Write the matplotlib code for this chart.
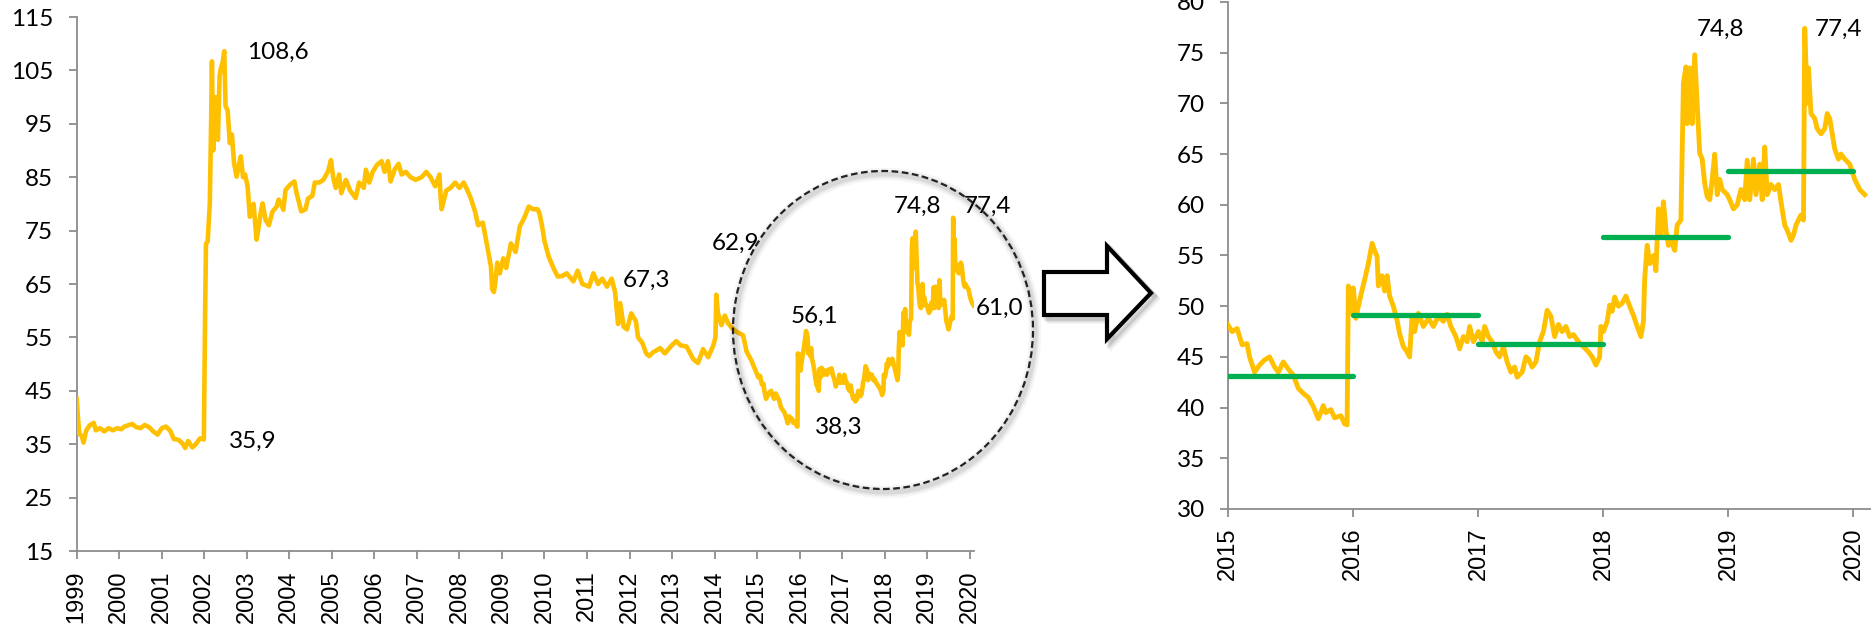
import matplotlib
matplotlib.use("Agg")
import matplotlib.pyplot as plt
from matplotlib.patches import Ellipse, Polygon
from matplotlib import font_manager

# ---------------- data ----------------
dates = [
    1999.00, 1999.03, 1999.06, 1999.12, 1999.16, 1999.22, 1999.30, 1999.40, 1999.45, 1999.55,
    1999.65, 1999.75, 1999.85, 1999.95, 2000.05, 2000.12, 2000.20, 2000.30, 2000.40, 2000.50,
    2000.60, 2000.70, 2000.80, 2000.90, 2001.00, 2001.10, 2001.20, 2001.28, 2001.40, 2001.50,
    2001.55, 2001.62, 2001.72, 2001.80, 2001.90, 2001.99, 2002.02, 2002.04, 2002.08, 2002.13,
    2002.16, 2002.18, 2002.21, 2002.25, 2002.28, 2002.32, 2002.36, 2002.39, 2002.43, 2002.47,
    2002.50, 2002.55, 2002.60, 2002.65, 2002.70, 2002.76, 2002.82, 2002.86, 2002.91, 2002.96,
    2003.02, 2003.07, 2003.12, 2003.16, 2003.20, 2003.23, 2003.28, 2003.33, 2003.37, 2003.44,
    2003.52, 2003.60, 2003.70, 2003.75, 2003.80, 2003.86, 2003.91, 2004.02, 2004.12, 2004.17,
    2004.22, 2004.28, 2004.38, 2004.44, 2004.54, 2004.60, 2004.70, 2004.80, 2004.91, 2004.98,
    2005.03, 2005.09, 2005.17, 2005.22, 2005.33, 2005.43, 2005.56, 2005.64, 2005.75, 2005.80,
    2005.88, 2005.96, 2006.06, 2006.17, 2006.24, 2006.32, 2006.38, 2006.48, 2006.57, 2006.64,
    2006.74, 2006.85, 2006.97, 2007.11, 2007.22, 2007.32, 2007.43, 2007.53, 2007.56, 2007.58,
    2007.69, 2007.79, 2007.90, 2008.00, 2008.10, 2008.19, 2008.27, 2008.37, 2008.44, 2008.55,
    2008.63, 2008.74, 2008.77, 2008.81, 2008.84, 2008.89, 2008.95, 2009.03, 2009.10, 2009.21,
    2009.32, 2009.42, 2009.52, 2009.63, 2009.73, 2009.84, 2009.89, 2009.95, 2010.00, 2010.10,
    2010.21, 2010.31, 2010.42, 2010.52, 2010.68, 2010.78, 2010.89, 2011.05, 2011.15, 2011.26,
    2011.36, 2011.47, 2011.58, 2011.66, 2011.73, 2011.78, 2011.86, 2011.94, 2012.04, 2012.15,
    2012.20, 2012.30, 2012.39, 2012.46, 2012.55, 2012.62, 2012.72, 2012.83, 2012.99, 2013.10,
    2013.20, 2013.34, 2013.50, 2013.61, 2013.73, 2013.85, 2013.97, 2014.02, 2014.04, 2014.08,
    2014.16, 2014.24, 2014.32, 2014.44, 2014.55, 2014.67, 2014.75, 2014.87, 2014.95,
    2015.00, 2015.03, 2015.07, 2015.11, 2015.15, 2015.17, 2015.21, 2015.25, 2015.29, 2015.33,
    2015.37, 2015.40, 2015.44, 2015.48, 2015.52, 2015.56, 2015.60, 2015.64, 2015.68, 2015.72,
    2015.76, 2015.78, 2015.82, 2015.85, 2015.90, 2015.93, 2015.95, 2015.96, 2015.98, 2016.00,
    2016.02, 2016.04, 2016.07, 2016.09, 2016.12, 2016.15, 2016.17, 2016.19, 2016.20, 2016.23,
    2016.25, 2016.27, 2016.29, 2016.32, 2016.35, 2016.37, 2016.40, 2016.42, 2016.45, 2016.47,
    2016.49, 2016.52, 2016.56, 2016.60, 2016.64, 2016.68, 2016.72, 2016.75, 2016.78, 2016.82,
    2016.85, 2016.88, 2016.91, 2016.93, 2016.96, 2017.00, 2017.03, 2017.05, 2017.08, 2017.11,
    2017.14, 2017.17, 2017.20, 2017.23, 2017.26, 2017.29, 2017.31, 2017.35, 2017.38, 2017.40,
    2017.43, 2017.46, 2017.49, 2017.52, 2017.55, 2017.58, 2017.61, 2017.64, 2017.67, 2017.70,
    2017.73, 2017.76, 2017.80, 2017.84, 2017.88, 2017.91, 2017.94, 2017.97, 2017.98, 2018.00,
    2018.03, 2018.05, 2018.07, 2018.09, 2018.12, 2018.15, 2018.18, 2018.21, 2018.24, 2018.27,
    2018.30, 2018.32, 2018.33, 2018.35, 2018.37, 2018.40, 2018.42, 2018.44, 2018.46, 2018.48,
    2018.50, 2018.52, 2018.54, 2018.57, 2018.59, 2018.62, 2018.64, 2018.66, 2018.67, 2018.69,
    2018.71, 2018.73, 2018.75, 2018.77, 2018.79, 2018.81, 2018.83, 2018.85, 2018.87, 2018.89,
    2018.91, 2018.93, 2018.95, 2018.99, 2019.01, 2019.04, 2019.07, 2019.10, 2019.13, 2019.15,
    2019.17, 2019.20, 2019.22, 2019.25, 2019.27, 2019.29, 2019.31, 2019.34, 2019.37, 2019.40,
    2019.43, 2019.45, 2019.47, 2019.50, 2019.52, 2019.54, 2019.56, 2019.58, 2019.60, 2019.61,
    2019.63, 2019.64, 2019.66, 2019.69, 2019.71, 2019.74, 2019.77, 2019.79, 2019.81, 2019.83,
    2019.85, 2019.88, 2019.90, 2019.93, 2019.97, 2020.01, 2020.05, 2020.09,
]
prices = [
    43.5, 40.0, 37.0, 36.5, 35.3, 37.5, 38.5, 39.0, 37.6, 38.0,
    37.4, 38.0, 37.6, 38.0, 37.8, 38.3, 38.5, 38.8, 38.2, 38.0,
    38.6, 38.2, 37.4, 36.8, 38.0, 38.3, 37.5, 36.0, 35.8, 35.0,
    34.3, 35.6, 34.4, 35.0, 36.1, 35.9, 60.0, 72.5, 73.0, 80.0,
    95.0, 106.7, 90.0, 98.0, 100.0, 92.0, 104.0, 105.4, 106.4, 108.6,
    98.3, 97.5, 91.4, 93.0, 87.6, 85.1, 87.5, 88.9, 85.0, 85.5,
    83.2, 77.6, 78.5, 80.0, 76.0, 73.3, 75.8, 78.5, 80.1, 77.0,
    76.0, 78.5, 79.5, 80.8, 80.0, 78.9, 82.6, 83.6, 84.2, 82.0,
    80.5, 78.6, 79.0, 81.0, 81.5, 84.0, 84.0, 84.5, 86.1, 88.2,
    85.0, 83.0, 85.5, 82.0, 84.5, 82.5, 81.1, 84.0, 83.0, 86.4,
    84.0, 86.0, 87.3, 88.0, 86.0, 88.0, 84.2, 86.5, 87.5, 85.5,
    86.0, 85.0, 84.5, 85.0, 86.0, 85.0, 83.3, 85.5, 81.0, 79.0,
    82.5, 83.0, 84.0, 83.0, 84.0, 82.5, 81.0, 78.5, 76.0, 76.5,
    73.0, 68.3, 64.0, 63.5, 65.0, 69.0, 67.0, 69.8, 68.0, 72.6,
    71.0, 75.8, 77.3, 79.5, 79.0, 79.0, 78.0, 75.5, 73.0, 70.1,
    68.0, 66.4, 66.5, 67.0, 65.5, 67.5, 65.0, 64.5, 67.0, 65.0,
    66.0, 64.5, 66.0, 63.5, 57.5, 61.4, 57.0, 56.5, 59.5, 58.0,
    55.0, 54.0, 52.0, 51.5, 52.2, 52.5, 53.0, 52.0, 53.5, 54.3,
    53.5, 53.3, 50.9, 50.2, 52.8, 51.3, 53.5, 55.0, 63.0, 59.5,
    57.3, 59.1, 57.6, 56.5, 55.9, 55.4, 52.4, 50.6, 49.0,
    48.1, 47.5, 47.8, 46.2, 46.3, 45.0, 43.5, 44.2, 44.7, 45.0,
    44.0, 43.5, 44.5, 43.8, 43.2, 41.9, 41.4, 41.0, 40.1, 38.9,
    40.2, 39.5, 39.8, 39.0, 39.2, 38.4, 38.3, 52.0, 49.4, 51.8,
    48.8, 50.0, 51.6, 52.6, 54.2, 56.2, 55.5, 54.9, 52.0, 53.0,
    51.5, 53.0, 51.0, 50.0, 48.6, 47.3, 46.0, 45.7, 45.0, 49.1,
    47.5, 49.3, 48.0, 48.8, 48.0, 49.0, 48.5, 49.2, 48.0, 47.0,
    45.8, 47.0, 46.5, 48.0, 46.5, 47.5, 46.5, 48.0, 47.0, 46.5,
    45.5, 45.0, 46.0, 44.5, 43.5, 44.0, 43.0, 43.5, 45.0, 44.8,
    44.0, 44.5, 46.5, 47.5, 49.6, 49.0, 47.0, 48.2, 47.5, 48.0,
    47.0, 47.2, 46.5, 46.0, 45.5, 45.0, 44.2, 45.0, 48.0, 47.5,
    48.5, 50.1, 49.5, 50.9, 50.0, 50.3, 51.0, 50.0, 49.1, 48.0,
    47.0, 48.5, 52.7, 56.0, 54.2, 55.0, 53.5, 59.6, 57.0, 60.3,
    57.5, 56.0, 56.5, 55.5, 58.0, 58.5, 72.0, 73.6, 68.0, 73.5,
    68.0, 74.8, 70.0, 65.1, 64.5, 62.1, 60.8, 60.5, 62.5, 65.0,
    61.0, 62.5, 61.5, 61.0, 60.5, 59.6, 60.0, 61.5, 60.5, 64.4,
    60.5, 64.5, 61.0, 64.0, 60.5, 65.7, 61.0, 62.0, 61.5, 62.0,
    59.5, 58.0, 57.5, 56.5, 57.0, 58.0, 58.5, 59.0, 58.5, 77.4,
    70.0, 73.5, 69.0, 68.5, 67.5, 67.0, 67.5, 69.0, 68.5, 67.0,
    65.5, 64.5, 65.0, 64.5, 64.0, 62.5, 61.5, 61.0,
]
avg_years = [2015, 2016, 2017, 2018, 2019]
avg_values = [43.1, 49.1, 46.3, 56.8, 63.3]
left_labels = ["108,6", "35,9", "67,3", "62,9", "56,1", "38,3", "74,8", "77,4", "61,0"]
right_labels = ["74,8", "77,4"]
left_xticks = list(range(1999, 2021))
right_xticks = list(range(2015, 2021))
left_yticks = list(range(15, 116, 10))
right_yticks = list(range(30, 81, 5))

# ---------------- layout ----------------
left_label_pos = [(2003.0, 108.3), (2002.58, 35.6), (2011.84, 65.6), (2013.93, 72.7),
                  (2015.79, 59.0), (2016.36, 38.2), (2018.21, 79.6), (2019.86, 79.6),
                  (2020.14, 60.5)]
right_label_pos = [(2018.75, 77.3), (2019.69, 77.3)]

W, H = 1871, 626
GOLD = "#FFC000"
GREEN = "#00B050"
SPINE = "#8C8C8C"

avail = {f.name for f in font_manager.fontManager.ttflist}
if "Liberation Sans Narrow" in avail:
    XFONT, XSIZE = "Liberation Sans Narrow", 20.5
else:
    XFONT, XSIZE = "Liberation Sans", 17
NUMF = "Lato" if "Lato" in avail else "DejaVu Sans"

fig = plt.figure(figsize=(W / 100, H / 100), dpi=100)
fig.patch.set_facecolor("white")


def px_rect(x0, y0, x1, y1):
    return [x0 / W, 1 - y1 / H, (x1 - x0) / W, (y1 - y0) / H]


ax1 = fig.add_axes(px_rect(76.7, 17, 974, 551))
ax2 = fig.add_axes(px_rect(1228.3, 2, 1871, 509))


def style(ax, xticks, yticks, xpad, ypad):
    for s in ["top", "right"]:
        ax.spines[s].set_visible(False)
    for s in ["left", "bottom"]:
        ax.spines[s].set_color(SPINE)
        ax.spines[s].set_linewidth(1.3)
    ax.set_xticks(xticks)
    ax.set_yticks(yticks)
    ax.set_xticklabels([str(t) for t in xticks], rotation=90, fontfamily=XFONT,
                       fontsize=XSIZE)
    ax.set_yticklabels([str(t) for t in yticks], fontfamily=NUMF, fontsize=17.5)
    ax.tick_params(axis="both", direction="out", length=6, width=1.3, color=SPINE,
                   labelcolor="black")
    ax.tick_params(axis="x", pad=xpad)
    ax.tick_params(axis="y", pad=ypad)
    ax.set_facecolor("none")


ax1.plot(dates, prices, color=GOLD, lw=3.3, solid_joinstyle="round", zorder=3)
ax1.set_xlim(1999, 2020.1)
ax1.set_ylim(15, 115)
style(ax1, left_xticks, left_yticks, 8, 11)
for txt, (x, y) in zip(left_labels, left_label_pos):
    ax1.text(x, y, txt, ha="left", va="center", fontsize=17.5, fontfamily=NUMF,
             color="black", zorder=5)

ax2.plot(dates, prices, color=GOLD, lw=3.5, solid_joinstyle="round", zorder=3)
for yr, v in zip(avg_years, avg_values):
    ax2.plot([yr, yr + 1], [v, v], color=GREEN, lw=3.8, solid_capstyle="round", zorder=4)
ax2.set_xlim(2015, 2020.14)
ax2.set_ylim(30, 80)
style(ax2, right_xticks, right_yticks, 7, 11)
for txt, (x, y) in zip(right_labels, right_label_pos):
    ax2.text(x, y, txt, ha="left", va="center", fontsize=17.5, fontfamily=NUMF,
             color="black", zorder=5)

# ---------------- dashed circle with soft shadow ----------------
cx, cy, ew, eh = 883, 330, 300, 318
for lw, a in [(9, 0.035), (6, 0.05), (3.5, 0.07)]:
    fig.add_artist(Ellipse(((cx + 2) / W, 1 - (cy + 3) / H), ew / W, eh / H,
                           transform=fig.transFigure, fill=False, ec="black",
                           lw=lw, alpha=a, zorder=9))
fig.add_artist(Ellipse((cx / W, 1 - cy / H), ew / W, eh / H, transform=fig.transFigure,
                       fill=False, ec="#222222", lw=1.6, linestyle=(0, (3, 1.6)),
                       zorder=10))

# ---------------- block arrow ----------------
arrow_px = [(1044, 272), (1107, 272), (1107, 246), (1151, 293), (1107, 339),
            (1107, 315), (1044, 315)]


def to_fig(pts, dx=0, dy=0):
    return [((x + dx) / W, 1 - (y + dy) / H) for x, y in pts]


for d, a in [(6, 0.05), (4.5, 0.08), (3, 0.12)]:
    fig.add_artist(Polygon(to_fig(arrow_px, d, d), closed=True, transform=fig.transFigure,
                           fc="none", ec="black", lw=4, alpha=a, joinstyle="miter",
                           zorder=9))
fig.add_artist(Polygon(to_fig(arrow_px), closed=True, transform=fig.transFigure,
                       fc="white", ec="black", lw=3, joinstyle="miter", zorder=10))

fig.savefig("out.png", dpi=100, facecolor="white")
